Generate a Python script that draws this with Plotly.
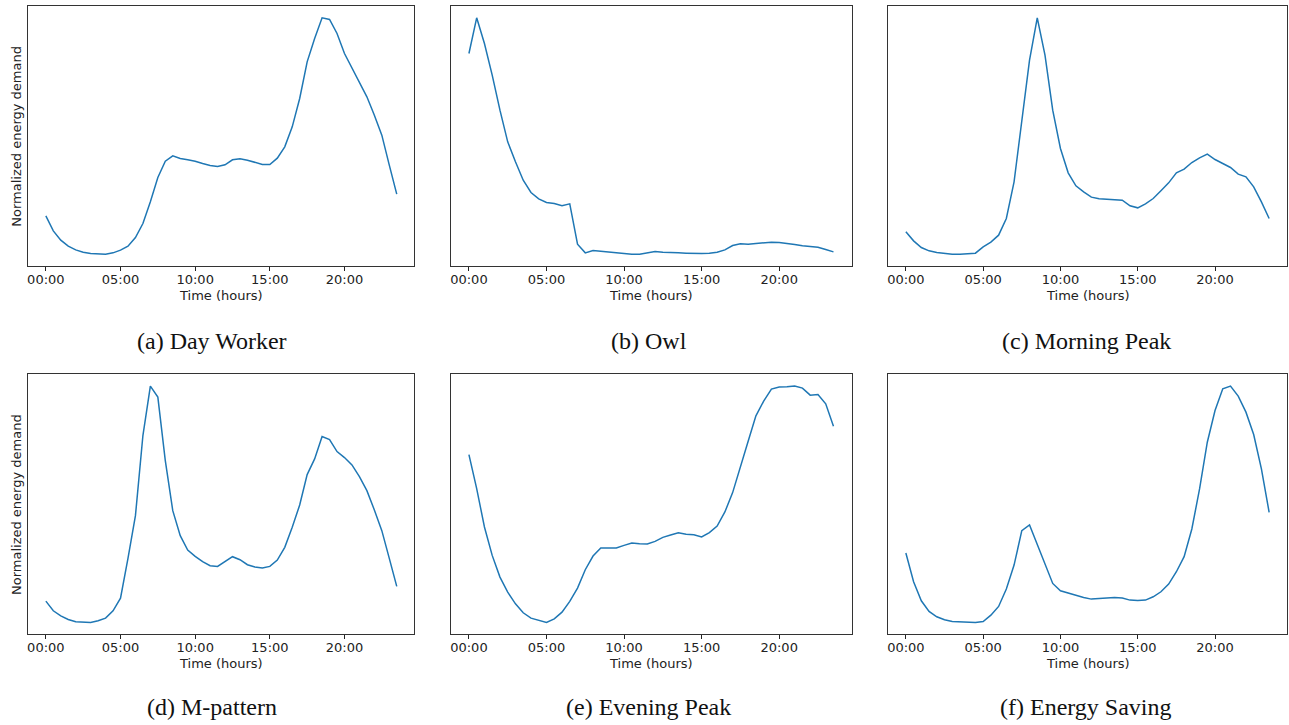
import plotly.graph_objects as go

# Half-hourly time grid (hours)
hours = [i * 0.5 for i in range(48)]

tick_vals = [0, 5, 10, 15, 20]
tick_text = ["00:00", "05:00", "10:00", "15:00", "20:00"]

captions = ["(a) Day Worker", "(b) Owl", "(c) Morning Peak",
            "(d) M-pattern", "(e) Evening Peak", "(f) Energy Saving"]

# Relative demand levels (arbitrary units, normalized below)
day_worker = [151, 106, 78, 60, 49, 42, 38, 36, 36, 40, 48, 60, 86, 128, 193, 266,
              315, 331, 323, 319, 315, 308, 302, 299, 304, 319, 322, 318, 311, 305, 305, 324,
              358, 418, 503, 613, 683, 745, 740, 698, 638, 593, 553, 508, 453, 393, 303, 216]
owl = [638, 745, 668, 573, 468, 373, 313, 258, 221, 202, 191, 188, 181, 187, 66, 40,
       47, 45, 41, 40, 37, 36, 36, 40, 44, 42, 40, 40, 39, 38, 38, 39,
       42, 49, 62, 67, 66, 68, 71, 72, 71, 69, 65, 61, 58, 57, 50, 43]
morning_peak = [103, 76, 56, 46, 41, 38, 36, 36, 37, 39, 58, 72, 93, 143, 253, 428,
                618, 745, 633, 468, 353, 280, 241, 223, 207, 202, 201, 201, 198, 181, 175, 187,
                203, 226, 250, 280, 291, 311, 325, 336, 320, 308, 296, 276, 268, 238, 193, 143]
m_pattern = [102, 73, 58, 47, 40, 38, 38, 43, 51, 73, 111, 230, 358, 598, 746, 713,
             523, 373, 298, 255, 236, 220, 208, 206, 220, 235, 226, 211, 204, 201, 206, 225,
             263, 323, 390, 481, 528, 595, 586, 550, 532, 510, 475, 433, 375, 313, 230, 146]
evening_peak = [540, 438, 323, 238, 173, 128, 93, 66, 50, 43, 37, 48, 68, 100, 140, 195,
                236, 260, 260, 260, 268, 275, 273, 272, 280, 292, 299, 306, 301, 300, 293, 306,
                326, 368, 426, 500, 580, 656, 700, 736, 742, 743, 745, 739, 718, 720, 692, 625]
energy_saving = [246, 160, 103, 71, 55, 46, 41, 40, 38, 38, 41, 60, 86, 138, 210, 313,
                 330, 271, 210, 155, 133, 126, 119, 113, 108, 109, 112, 113, 111, 105, 104, 105,
                 115, 130, 153, 190, 235, 318, 438, 578, 673, 738, 746, 716, 668, 601, 498, 368]

series = [day_worker, owl, morning_peak, m_pattern, evening_peak, energy_saving]

W, H = 1289, 725
# panel frames in pixels (left, right, top, bottom)
col_px = [(28.3, 414.3), (450.7, 851.7), (887.7, 1287.3)]
row_px = [(6.0, 266.0), (374.3, 634.3)]
caption_cx = [212, 649, 1086]
caption_cy = [341, 707]

LINE = "#1f77b4"
TXT = "#222222"
TICKFONT = dict(family="DejaVu Sans", size=13, color=TXT)

fig = go.Figure()
annotations = []
layout = {}
for k, vals in enumerate(series):
    r, c = divmod(k, 3)
    n = k + 1
    xa = "xaxis" if n == 1 else f"xaxis{n}"
    ya = "yaxis" if n == 1 else f"yaxis{n}"
    lo, hi = min(vals), max(vals)
    span = hi - lo
    norm = [(v - lo) / span for v in vals]
    fig.add_trace(go.Scatter(x=hours, y=norm, mode="lines",
                             line=dict(color=LINE, width=1.5),
                             xaxis="x" if n == 1 else f"x{n}",
                             yaxis="y" if n == 1 else f"y{n}",
                             showlegend=False, hoverinfo="skip"))
    l, rr = col_px[c]
    t, b = row_px[r]
    xr = 23.5 * 0.05
    layout[xa] = dict(domain=[l / W, rr / W], range=[-xr, 23.5 + xr],
                      anchor="y" if n == 1 else f"y{n}",
                      tickvals=tick_vals, ticktext=tick_text, ticks="outside",
                      ticklen=3.5, tickwidth=0.8, tickcolor=TXT,
                      ticklabelstandoff=-2,
                      tickfont=TICKFONT, showgrid=False, zeroline=False,
                      showline=True, mirror=True, linecolor="#333333", linewidth=1)
    layout[ya] = dict(domain=[1 - b / H, 1 - t / H], range=[-0.05, 1.05],
                      anchor="x" if n == 1 else f"x{n}",
                      showticklabels=False, ticks="", showgrid=False, zeroline=False,
                      showline=True, mirror=True, linecolor="#333333", linewidth=1)
    # x-axis title
    annotations.append(dict(text="Time (hours)", xref="paper", yref="paper",
                            x=((l + rr) / 2) / W, y=1 - (b + 29.5) / H,
                            xanchor="center", yanchor="middle", showarrow=False,
                            font=dict(family="DejaVu Sans", size=13, color=TXT)))
    if c == 0:
        annotations.append(dict(text="Normalized energy demand", xref="paper", yref="paper",
                                x=16.7 / W, y=1 - ((t + b) / 2) / H, textangle=-90,
                                xanchor="center", yanchor="middle", showarrow=False,
                                font=dict(family="DejaVu Sans", size=13, color=TXT)))
    annotations.append(dict(text=captions[k], xref="paper", yref="paper",
                            x=caption_cx[c] / W, y=1 - caption_cy[r] / H,
                            xanchor="center", yanchor="middle", showarrow=False,
                            font=dict(family="Liberation Serif", size=24, color="#111111")))

fig.update_layout(width=W, height=H, margin=dict(l=0, r=0, t=0, b=0),
                  paper_bgcolor="white", plot_bgcolor="white",
                  annotations=annotations, **layout)

fig.write_html("out.html", config={"displayModeBar": False},
               post_script="document.body.style.margin='0';")
